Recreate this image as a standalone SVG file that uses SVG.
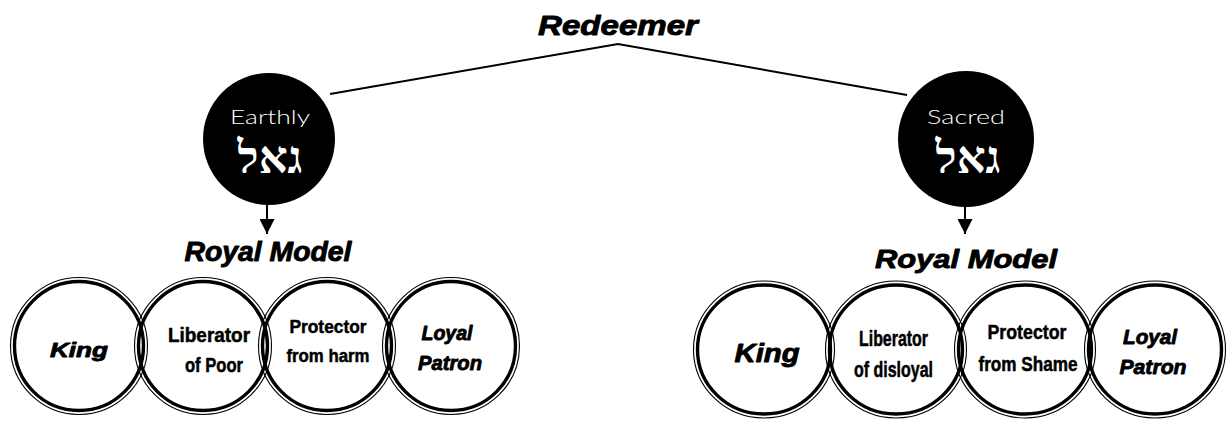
<svg xmlns="http://www.w3.org/2000/svg" width="1229" height="423" viewBox="0 0 1229 423">
  <style>
    .heavy { font-family: "Liberation Sans", Arial, sans-serif; font-weight: bold; font-style: italic; fill: #000; stroke: #000; stroke-width: 0.9; stroke-linejoin: round; text-anchor: middle; }
    .narrow { font-family: "Liberation Sans", Arial, sans-serif; font-weight: bold; fill: #000; stroke: #000; stroke-width: 0.5; stroke-linejoin: round; text-anchor: middle; }
    .light { font-family: "Lato", "Open Sans", sans-serif; font-weight: 300; fill: #fff; text-anchor: middle; }
    .heb { font-family: "Liberation Serif", "DejaVu Serif", serif; font-weight: bold; fill: #fff; text-anchor: middle; }
    .ring-thin { fill: none; stroke: #000; stroke-width: 1.1; }
    .ring-thick { fill: none; stroke: #000; stroke-width: 3.4; }
    .link { fill: none; stroke: #000; stroke-width: 2; }
  </style>
  <defs>
    <marker id="arrow" viewBox="0 0 15 15" refX="15" refY="7.5" markerWidth="15" markerHeight="15" markerUnits="userSpaceOnUse" orient="auto">
      <path d="M0,0 L15,7.5 L0,15 Z" fill="#000"/>
    </marker>
  </defs>

  <rect width="1229" height="423" fill="#fff"/>

  <!-- title -->
  <g id="redeemer">
    <text class="heavy" x="618" y="35" font-size="28" textLength="160" lengthAdjust="spacingAndGlyphs">Redeemer</text>
  </g>

  <!-- connectors -->
  <g id="connectors">
    <polyline class="link" points="330,94 618,44 907,95"/>
    <line class="link" x1="267" y1="204" x2="267" y2="234" marker-end="url(#arrow)"/>
    <line class="link" x1="965" y1="206" x2="965" y2="234" marker-end="url(#arrow)"/>
  </g>

  <!-- earthly redeemer -->
  <g id="earthly">
    <circle cx="269" cy="139" r="66" fill="#000"/>
    <text class="light" x="270" y="124" font-size="20" textLength="80" lengthAdjust="spacingAndGlyphs">Earthly</text>
    <text class="heb" x="270" y="173" font-size="45">גאל</text>
  </g>

  <!-- sacred redeemer -->
  <g id="sacred">
    <circle cx="966" cy="139" r="68" fill="#000"/>
    <text class="light" x="966" y="124" font-size="20" textLength="78" lengthAdjust="spacingAndGlyphs">Sacred</text>
    <text class="heb" x="968" y="173" font-size="45">גאל</text>
  </g>

  <!-- left royal model -->
  <g id="royal-model-left">
    <text class="heavy" x="268" y="261" font-size="28" textLength="167" lengthAdjust="spacingAndGlyphs">Royal Model</text>
  </g>
  <g id="left-king">
    <circle class="ring-thin" cx="79" cy="346" r="68.5"/>
    <circle class="ring-thick" cx="79" cy="346" r="64.5"/>
    <text class="heavy" x="79" y="357" font-size="21" textLength="58" lengthAdjust="spacingAndGlyphs">King</text>
  </g>
  <g id="left-liberator">
    <circle class="ring-thin" cx="203" cy="346" r="68.5"/>
    <circle class="ring-thick" cx="203" cy="346" r="64.5"/>
    <text class="narrow" x="209" y="342" font-size="19.5" textLength="82" lengthAdjust="spacingAndGlyphs">Liberator</text>
    <text class="narrow" x="214" y="372" font-size="19.5" textLength="58" lengthAdjust="spacingAndGlyphs">of  Poor</text>
  </g>
  <g id="left-protector">
    <circle class="ring-thin" cx="327" cy="346" r="68.5"/>
    <circle class="ring-thick" cx="327" cy="346" r="64.5"/>
    <text class="narrow" x="328" y="333" font-size="18.5" textLength="77" lengthAdjust="spacingAndGlyphs">Protector</text>
    <text class="narrow" x="328" y="362" font-size="18.5" textLength="83" lengthAdjust="spacingAndGlyphs">from harm</text>
  </g>
  <g id="left-patron">
    <circle class="ring-thin" cx="451" cy="346" r="68.5"/>
    <circle class="ring-thick" cx="451" cy="346" r="64.5"/>
    <text class="heavy" x="447" y="340" font-size="21" textLength="51" lengthAdjust="spacingAndGlyphs">Loyal</text>
    <text class="heavy" x="450" y="370" font-size="21" textLength="64" lengthAdjust="spacingAndGlyphs">Patron</text>
  </g>

  <!-- right royal model -->
  <g id="royal-model-right">
    <text class="heavy" x="966" y="268" font-size="26" textLength="182" lengthAdjust="spacingAndGlyphs">Royal Model</text>
  </g>
  <g id="right-king">
    <ellipse class="ring-thin" cx="764" cy="349.5" rx="70.5" ry="68.5"/>
    <ellipse class="ring-thick" cx="764" cy="349.5" rx="66.5" ry="64.5"/>
    <text class="heavy" x="767" y="362" font-size="26" textLength="65" lengthAdjust="spacingAndGlyphs">King</text>
  </g>
  <g id="right-liberator">
    <ellipse class="ring-thin" cx="896" cy="349.5" rx="70.5" ry="68.5"/>
    <ellipse class="ring-thick" cx="896" cy="349.5" rx="66.5" ry="64.5"/>
    <text class="narrow" x="893.5" y="346" font-size="21.5" textLength="69" lengthAdjust="spacingAndGlyphs">Liberator</text>
    <text class="narrow" x="893.5" y="377" font-size="21.5" textLength="79" lengthAdjust="spacingAndGlyphs">of  disloyal</text>
  </g>
  <g id="right-protector">
    <ellipse class="ring-thin" cx="1025" cy="349.5" rx="70.5" ry="68.5"/>
    <ellipse class="ring-thick" cx="1025" cy="349.5" rx="66.5" ry="64.5"/>
    <text class="narrow" x="1027" y="339" font-size="20.5" textLength="79" lengthAdjust="spacingAndGlyphs">Protector</text>
    <text class="narrow" x="1028" y="371" font-size="20.5" textLength="99" lengthAdjust="spacingAndGlyphs">from Shame</text>
  </g>
  <g id="right-patron">
    <ellipse class="ring-thin" cx="1155" cy="349.5" rx="70.5" ry="68.5"/>
    <ellipse class="ring-thick" cx="1155" cy="349.5" rx="66.5" ry="64.5"/>
    <text class="heavy" x="1150" y="344" font-size="21" textLength="54" lengthAdjust="spacingAndGlyphs">Loyal</text>
    <text class="heavy" x="1153" y="374" font-size="21" textLength="67" lengthAdjust="spacingAndGlyphs">Patron</text>
  </g>
</svg>
